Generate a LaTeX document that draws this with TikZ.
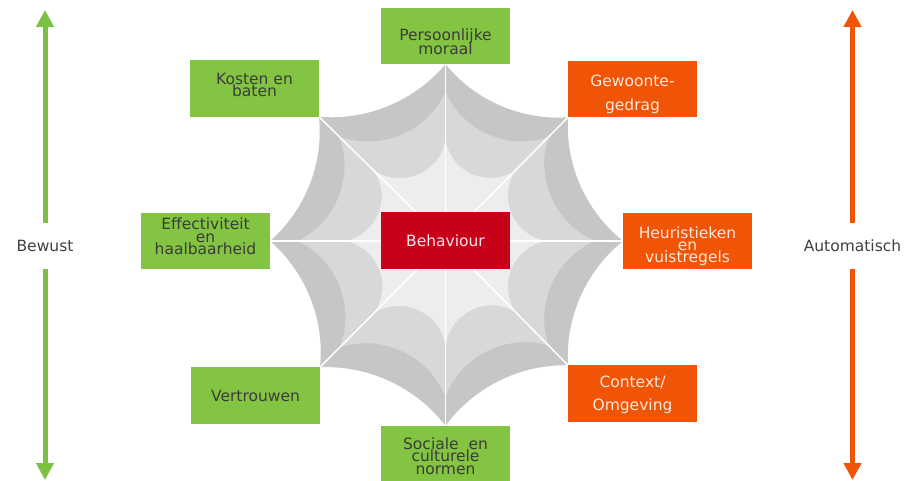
\documentclass[tikz,border=0pt]{standalone}
\usepackage{fontspec}
\setmainfont{DejaVu Sans}
\usetikzlibrary{arrows.meta,calc}
\definecolor{bgreen}{RGB}{131,196,66}
\definecolor{borange}{RGB}{240,84,6}
\definecolor{bred}{RGB}{200,0,26}
\definecolor{webA}{RGB}{198,198,198}
\definecolor{webB}{RGB}{216,216,216}
\definecolor{webC}{RGB}{237,237,237}
\definecolor{gtextc}{RGB}{58,60,56}
\definecolor{otextc}{RGB}{255,232,220}
\definecolor{rtextc}{RGB}{250,228,232}
\definecolor{labc}{RGB}{64,64,64}
\definecolor{agreen}{RGB}{125,193,66}
\definecolor{aorange}{RGB}{240,84,6}
\pgfdeclarelayer{bgw}
\pgfdeclarelayer{web}
\pgfsetlayers{bgw,web,main}
% #1 colour, #2 scale of the vertices, #3 bend angle, #4 looseness
\newcommand\weblayer[4]{%
  \fill[#1] ($(C)!#2!(V0)$) \foreach \j in {1,2,3,4,5,6,7,0}{
    to[bend right=#3, looseness=#4] ($(C)!#2!(V\j)$)} -- cycle;}
\begin{document}
\begin{tikzpicture}[x=1pt,y=-1pt,
  box/.style={minimum width=129pt, minimum height=56.5pt, inner sep=0pt, outer sep=0pt},
  gbox/.style={box, fill=bgreen},
  obox/.style={box, fill=borange},
  rbox/.style={box, fill=bred},
  txt/.style={font={\fontsize{15.5}{#1}\selectfont\lineskiplimit=-30pt}, align=center, inner sep=0pt},
  gtxt/.style={txt=#1, text=gtextc},
  otxt/.style={txt=#1, text=otextc},
  lab/.style={font={\fontsize{15.5}{18}\selectfont}, text=labc, inner sep=0pt, minimum height=45.6pt},
  garrow/.style={draw=agreen, line width=5pt, -{Triangle[width=17pt,length=17pt]}},
  oarrow/.style={draw=aorange, line width=5pt, -{Triangle[width=17pt,length=17pt]}},
  webspoke/.style={draw=white, line width=1.5pt}]
\begin{pgfonlayer}{bgw}
  \fill[white] (0,0) rectangle (912,481);
\end{pgfonlayer}
\useasboundingbox (0,0) rectangle (912,481);

% boxes
\node[gbox] (moraal) at (445.5,36) {};
\node[gbox] (kosten) at (254.5,88.5) {};
\node[obox] (gewoonte) at (632.5,89) {};
\node[gbox] (effect) at (205.5,241) {};
\node[rbox] (beh) at (445.5,240.5) {};
\node[obox] (heur) at (687.5,241) {};
\node[gbox] (vertr) at (255.5,395.5) {};
\node[obox] (context) at (632.5,393.5) {};
\node[gbox] (sociale) at (445.5,454) {};

% texts
\node[gtxt=13.6] (moraal-t) at (445.5,42) {Persoonlijke\\moraal};
\node[gtxt=11.7] (kosten-t) at (254.5,84.7) {Kosten en\\baten};
\node[otxt=24] (gewoonte-t) at (632.5,94.2) {Gewoonte-\\gedrag};
\node[gtxt=12.5] (effect-t) at (205.5,236.3) {Effectiviteit\\en\\haalbaarheid};
\node[txt=15, text=rtextc] (beh-t) at (445.5,240.5) {Behaviour};
\node[otxt=12] (heur-t) at (687.5,246.5) {Heuristieken\\en\\vuistregels};
\node[gtxt=15] (vertr-t) at (255.5,395.5) {Vertrouwen};
\node[otxt=22.3] (context-t) at (632.5,395) {Context/\\Omgeving};
\node[gtxt=12.3] (sociale-t) at (445.5,456.2) {Sociale\ \ en\\culturele\\normen};

% web
\begin{pgfonlayer}{web}
  \coordinate (C) at (445.5,241);
  \coordinate (V0) at (moraal.south);
  \coordinate (V1) at (gewoonte.south west);
  \coordinate (V2) at (heur.west);
  \coordinate (V3) at (context.north west);
  \coordinate (V4) at (sociale.north);
  \coordinate (V5) at (vertr.north east);
  \coordinate (V6) at (effect.east);
  \coordinate (V7) at (kosten.south east);
  \weblayer{webA}{1}{27.4}{0.9}
  \weblayer{webB}{0.84}{42}{0.98}
  \weblayer{webC}{0.57}{57}{1.1}
  \foreach \k in {0,...,7}{\draw[webspoke] (C) -- (V\k);}
\end{pgfonlayer}

% side labels and arrows
\node[lab] (bewust) at (45,245.5) {Bewust};
\node[lab] (autom) at (852.5,245.5) {Automatisch};
\coordinate (btop) at (45,10);
\coordinate (bbot) at (45,480);
\coordinate (atop) at (852.5,10);
\coordinate (abot) at (852.5,480);
\draw[garrow] (bewust.north) -- (btop);
\draw[garrow] (bewust.south) -- (bbot);
\draw[oarrow] (autom.north) -- (atop);
\draw[oarrow] (autom.south) -- (abot);
\end{tikzpicture}
\end{document}
